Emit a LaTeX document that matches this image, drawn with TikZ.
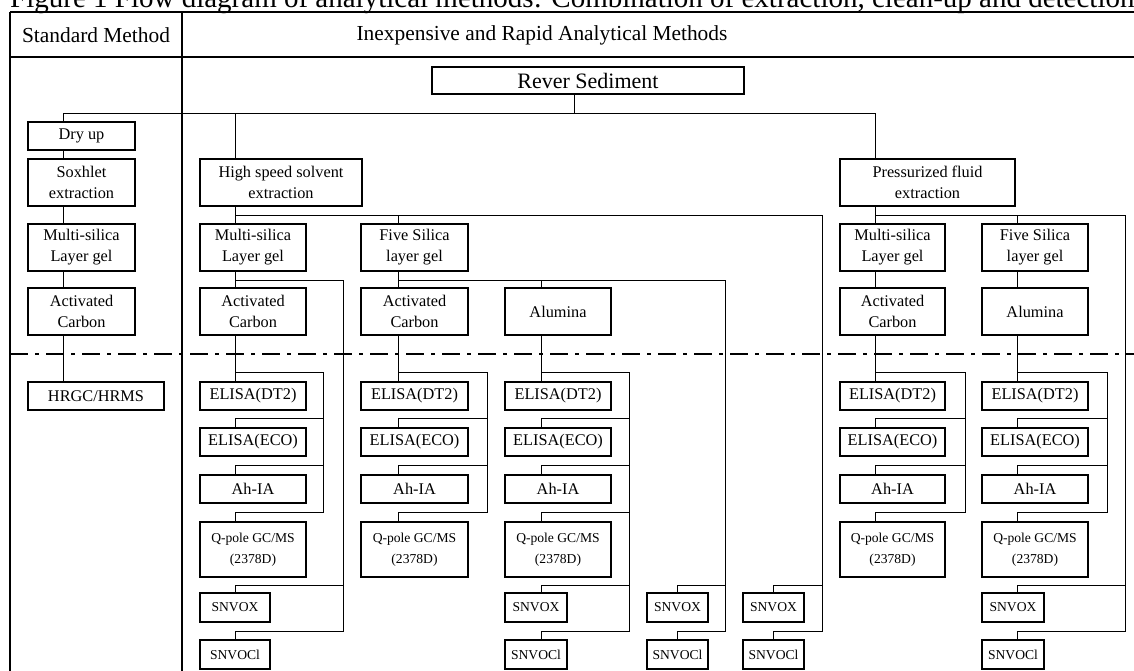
\documentclass[tikz,border=0pt]{standalone}
\usepackage{fontspec}
\setmainfont{Liberation Serif}
\begin{document}
\begin{tikzpicture}[x=1pt, y=-1pt,
    box/.style={draw, line width=2.4pt, inner sep=0pt, outer sep=0pt, anchor=north west, align=center, font=\fontsize{16.3}{21}\selectfont},
    onebox/.style={box, minimum width=#1, minimum height=28pt},
    twobox/.style={box, minimum width=#1, minimum height=47pt},
    qbox/.style={box, minimum width=#1, minimum height=55pt, font=\fontsize{13.6}{21}\selectfont},
    tagbox/.style={box, minimum width=#1, minimum height=29pt, font=\fontsize{13.6}{17}\selectfont},
    link/.style={line width=0.9pt},
    frame/.style={line width=1.8pt},
    divider/.style={line width=2.4pt, dash pattern=on 18pt off 7pt on 4pt off 7pt}]
  \useasboundingbox (0,0) rectangle (1134,671);

  % Caption and table
  \node[anchor=base west, inner sep=0pt, font=\fontsize{29}{34}\selectfont] (caption) at (10,8) {Figure 1 Flow diagram of analytical methods: Combination of extraction, clean-up and detection};
  \draw[frame] (10,12) -- (1134,12);
  \draw[frame] (10,57) -- (1134,57);
  \draw[frame] (10,12) -- (10,671);
  \draw[frame] (182,12) -- (182,671);
  \node[font=\fontsize{21.4}{24}\selectfont] (stdhead) at (96,35) {Standard Method};
  \node[font=\fontsize{21.4}{24}\selectfont] (rapidhead) at (542,35) {Inexpensive and Rapid Analytical Methods};
  \draw[divider] (10,354) -- (1134,354);

  % Sample
  \node[box, font=\fontsize{22}{26}\selectfont, minimum width=312pt, minimum height=27pt] (rever) at (432,67) {Rever Sediment};

  % Standard method
  \node[onebox=107pt] (dry) at (28,122) {Dry up};
  \node[twobox=107pt] (sox) at (28,159) {Soxhlet\\extraction};
  \node[twobox=107pt] (ms0) at (28,224) {Multi-silica\\Layer gel};
  \node[twobox=107pt] (ac0) at (28,288) {Activated\\Carbon};
  \node[onebox=136pt] (hrgc) at (28,382) {HRGC/HRMS};

  % High speed solvent extraction
  \node[twobox=162pt] (hs) at (200,159) {High speed solvent\\extraction};
  \node[twobox=106pt] (ms1) at (200,224) {Multi-silica\\Layer gel};
  \node[twobox=106pt] (ac1) at (200,288) {Activated\\Carbon};
  \node[onebox=106pt] (dt1) at (200,382) {ELISA(DT2)};
  \node[onebox=106pt] (eco1) at (200,428) {ELISA(ECO)};
  \node[onebox=106pt] (ah1) at (200,475) {Ah-IA};
  \node[qbox=106pt] (qp1) at (200,522) {Q-pole GC/MS\\(2378D)};
  \node[tagbox=70pt] (ox1) at (200,593) {SNVOX};
  \node[tagbox=70pt] (ocl1) at (200,640) {SNVOCl};

  \node[twobox=107pt] (fs1) at (361,224) {Five Silica\\layer gel};
  \node[twobox=107pt] (ac2) at (361,288) {Activated\\Carbon};
  \node[onebox=107pt] (dt2) at (361,382) {ELISA(DT2)};
  \node[onebox=107pt] (eco2) at (361,428) {ELISA(ECO)};
  \node[onebox=107pt] (ah2) at (361,475) {Ah-IA};
  \node[qbox=107pt] (qp2) at (361,522) {Q-pole GC/MS\\(2378D)};

  \node[twobox=106pt] (al3) at (505,288) {Alumina};
  \node[onebox=106pt] (dt3) at (505,382) {ELISA(DT2)};
  \node[onebox=106pt] (eco3) at (505,428) {ELISA(ECO)};
  \node[onebox=106pt] (ah3) at (505,475) {Ah-IA};
  \node[qbox=106pt] (qp3) at (505,522) {Q-pole GC/MS\\(2378D)};
  \node[tagbox=62pt] (ox3) at (505,593) {SNVOX};
  \node[tagbox=62pt] (ocl3) at (505,640) {SNVOCl};

  \node[tagbox=61pt] (ox4) at (647,593) {SNVOX};
  \node[tagbox=61pt] (ocl4) at (647,640) {SNVOCl};
  \node[tagbox=61pt] (ox5) at (743,593) {SNVOX};
  \node[tagbox=61pt] (ocl5) at (743,640) {SNVOCl};

  % Pressurized fluid extraction
  \node[twobox=175pt] (pfe) at (840,159) {Pressurized fluid\\extraction};
  \node[twobox=105pt] (ms6) at (840,224) {Multi-silica\\Layer gel};
  \node[twobox=105pt] (ac6) at (840,288) {Activated\\Carbon};
  \node[onebox=105pt] (dt6) at (840,382) {ELISA(DT2)};
  \node[onebox=105pt] (eco6) at (840,428) {ELISA(ECO)};
  \node[onebox=105pt] (ah6) at (840,475) {Ah-IA};
  \node[qbox=105pt] (qp6) at (840,522) {Q-pole GC/MS\\(2378D)};

  \node[twobox=106pt] (fs7) at (982,224) {Five Silica\\layer gel};
  \node[twobox=106pt] (al7) at (982,288) {Alumina};
  \node[onebox=106pt] (dt7) at (982,382) {ELISA(DT2)};
  \node[onebox=106pt] (eco7) at (982,428) {ELISA(ECO)};
  \node[onebox=106pt] (ah7) at (982,475) {Ah-IA};
  \node[qbox=106pt] (qp7) at (982,522) {Q-pole GC/MS\\(2378D)};
  \node[tagbox=62pt] (ox7) at (982,593) {SNVOX};
  \node[tagbox=62pt] (ocl7) at (982,640) {SNVOCl};

  % Sample split
  \draw[link] ([xshift=142pt]rever.south west) -- ++(0,19) -| ([xshift=35pt]dry.north west);
  \draw[link] ([xshift=142pt]rever.south west) -- ++(0,19) -| ([xshift=35pt]hs.north west);
  \draw[link] ([xshift=142pt]rever.south west) -- ++(0,19) -| ([xshift=35pt]pfe.north west);

  % Standard chain
  \draw[link] ([xshift=35pt]dry.south west) -- ([xshift=35pt]sox.north west);
  \draw[link] ([xshift=35pt]sox.south west) -- ([xshift=35pt]ms0.north west);
  \draw[link] ([xshift=35pt]ms0.south west) -- ([xshift=35pt]ac0.north west);
  \draw[link] ([xshift=35pt]ac0.south west) -- ([xshift=35pt]hrgc.north west);

  % High speed branches
  \draw[link] ([xshift=35pt]hs.south west) -- ([xshift=35pt]ms1.north west);
  \draw[link] ([xshift=35pt]hs.south west) -- ++(0,9) -| ([xshift=37pt]fs1.north west);
  \draw[link] ([xshift=35pt]hs.south west) -- ++(0,9) -| ([xshift=18pt,yshift=9pt]ocl5.north east) -| ([xshift=30pt]ocl5.north west);
  \draw[link] ([xshift=18pt,yshift=8pt]ox5.north east) -| ([xshift=30pt]ox5.north west);

  \draw[link] ([xshift=35pt]ms1.south west) -- ([xshift=35pt]ac1.north west);
  \draw[link] ([xshift=35pt]ms1.south west) -- ++(0,9) -| ([xshift=73pt,yshift=9pt]ocl1.north east) -| ([xshift=35pt]ocl1.north west);
  \draw[link] ([xshift=73pt,yshift=8pt]ox1.north east) -| ([xshift=35pt]ox1.north west);
  \draw[link] ([xshift=35pt]ac1.south west) -- ([xshift=35pt]dt1.north west);
  \draw[link] ([xshift=35pt]ac1.south west) -- ++(0,37) -| ([xshift=17pt,yshift=10pt]qp1.north east) -| ([xshift=35pt]qp1.north west);
  \draw[link] ([xshift=17pt,yshift=10pt]eco1.north east) -| ([xshift=35pt]eco1.north west);
  \draw[link] ([xshift=17pt,yshift=10pt]ah1.north east) -| ([xshift=35pt]ah1.north west);

  \draw[link] ([xshift=37pt]fs1.south west) -- ([xshift=37pt]ac2.north west);
  \draw[link] ([xshift=37pt]fs1.south west) -- ++(0,9) -| ([xshift=36pt]al3.north west);
  \draw[link] ([xshift=37pt]fs1.south west) -- ++(0,9) -| ([xshift=17pt,yshift=9pt]ocl4.north east) -| ([xshift=30pt]ocl4.north west);
  \draw[link] ([xshift=17pt,yshift=8pt]ox4.north east) -| ([xshift=30pt]ox4.north west);
  \draw[link] ([xshift=37pt]ac2.south west) -- ([xshift=37pt]dt2.north west);
  \draw[link] ([xshift=37pt]ac2.south west) -- ++(0,37) -| ([xshift=19pt,yshift=10pt]qp2.north east) -| ([xshift=37pt]qp2.north west);
  \draw[link] ([xshift=19pt,yshift=10pt]eco2.north east) -| ([xshift=37pt]eco2.north west);
  \draw[link] ([xshift=19pt,yshift=10pt]ah2.north east) -| ([xshift=37pt]ah2.north west);

  \draw[link] ([xshift=36pt]al3.south west) -- ([xshift=36pt]dt3.north west);
  \draw[link] ([xshift=36pt]al3.south west) -- ++(0,37) -| ([xshift=62pt,yshift=9pt]ocl3.north east) -| ([xshift=36pt]ocl3.north west);
  \draw[link] ([xshift=62pt,yshift=8pt]ox3.north east) -| ([xshift=36pt]ox3.north west);
  \draw[link] ([xshift=18pt,yshift=10pt]qp3.north east) -| ([xshift=36pt]qp3.north west);
  \draw[link] ([xshift=18pt,yshift=10pt]eco3.north east) -| ([xshift=36pt]eco3.north west);
  \draw[link] ([xshift=18pt,yshift=10pt]ah3.north east) -| ([xshift=36pt]ah3.north west);

  % Pressurized fluid branches
  \draw[link] ([xshift=35pt]pfe.south west) -- ([xshift=35pt]ms6.north west);
  \draw[link] ([xshift=35pt]pfe.south west) -- ++(0,9) -| ([xshift=35pt]fs7.north west);
  \draw[link] ([xshift=35pt]pfe.south west) -- ++(0,9) -| ([xshift=81pt,yshift=9pt]ocl7.north east) -| ([xshift=35pt]ocl7.north west);
  \draw[link] ([xshift=81pt,yshift=8pt]ox7.north east) -| ([xshift=35pt]ox7.north west);

  \draw[link] ([xshift=35pt]ms6.south west) -- ([xshift=35pt]ac6.north west);
  \draw[link] ([xshift=35pt]ac6.south west) -- ([xshift=35pt]dt6.north west);
  \draw[link] ([xshift=35pt]ac6.south west) -- ++(0,37) -| ([xshift=20pt,yshift=10pt]qp6.north east) -| ([xshift=35pt]qp6.north west);
  \draw[link] ([xshift=20pt,yshift=10pt]eco6.north east) -| ([xshift=35pt]eco6.north west);
  \draw[link] ([xshift=20pt,yshift=10pt]ah6.north east) -| ([xshift=35pt]ah6.north west);

  \draw[link] ([xshift=35pt]fs7.south west) -- ([xshift=35pt]al7.north west);
  \draw[link] ([xshift=35pt]al7.south west) -- ([xshift=35pt]dt7.north west);
  \draw[link] ([xshift=35pt]al7.south west) -- ++(0,37) -| ([xshift=19pt,yshift=10pt]qp7.north east) -| ([xshift=35pt]qp7.north west);
  \draw[link] ([xshift=19pt,yshift=10pt]eco7.north east) -| ([xshift=35pt]eco7.north west);
  \draw[link] ([xshift=19pt,yshift=10pt]ah7.north east) -| ([xshift=35pt]ah7.north west);
\end{tikzpicture}
\end{document}
